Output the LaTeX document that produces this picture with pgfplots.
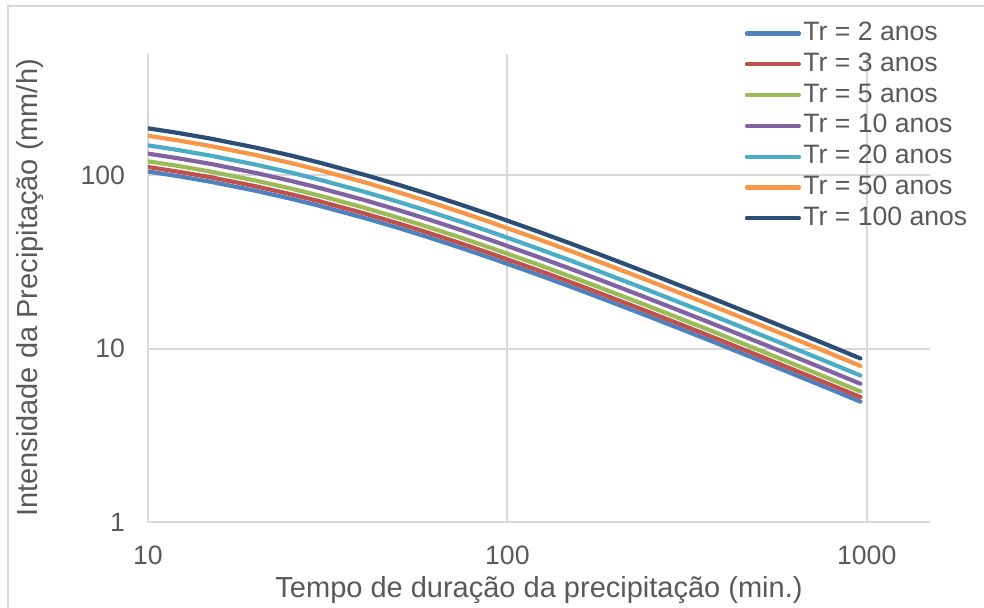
\documentclass[border=0pt]{standalone}
\usepackage{pgfplots}
\pgfplotsset{compat=1.18}
\usepackage{pgfplotstable}
\usepackage{fontspec}
\setmainfont{Liberation Sans}
\definecolor{txt}{HTML}{595959}
\definecolor{grd}{HTML}{D9D9D9}
\definecolor{c2}{HTML}{4F81BD}
\definecolor{c3}{HTML}{C0504D}
\definecolor{c5}{HTML}{9BBB59}
\definecolor{c10}{HTML}{8064A2}
\definecolor{c20}{HTML}{4BACC6}
\definecolor{c50}{HTML}{F79646}
\definecolor{c100}{HTML}{2C4D75}
\pgfplotstableread{
t    a      b      c      d      e      f      g
10   105.0  111.5  120.2  133.1  148.6  168.7  186.4
12   99.09  105.2  113.5  125.6  140.2  159.2  175.9
15   91.46  97.13  104.7  116.0  129.4  147.0  162.3
20   81.19  86.22  92.96  102.9  114.9  130.5  144.1
25   73.12  77.65  83.72  92.72  103.5  117.5  129.8
30   66.60  70.73  76.26  84.45  94.24  107.0  118.2
40   56.68  60.19  64.90  71.87  80.20  91.08  100.6
50   49.48  52.55  56.65  62.74  70.01  79.51  87.83
60   43.99  46.72  50.37  55.78  62.25  70.69  78.08
75   37.83  40.17  43.32  47.97  53.53  60.79  67.15
90   33.27  35.33  38.09  42.19  47.08  53.46  59.05
120  26.94  28.61  30.85  34.16  38.12  43.29  47.82
150  22.74  24.15  26.04  28.83  32.18  36.54  40.36
180  19.73  20.95  22.59  25.02  27.92  31.71  35.02
240  15.70  16.67  17.98  19.91  22.22  25.23  27.87
300  13.10  13.91  15.00  16.61  18.54  21.05  23.25
360  11.29  11.99  12.93  14.32  15.98  18.14  20.04
480  8.885  9.436  10.17  11.27  12.57  14.28  15.77
600  7.371  7.828  8.440  9.346  10.43  11.85  13.08
720  6.321  6.713  7.238  8.015  8.944  10.16  11.22
840  5.544  5.888  6.348  7.030  7.845  8.909  9.841
960  4.946  5.253  5.663  6.272  6.999  7.948  8.779
}\idf
\begin{document}
\begin{tikzpicture}
\useasboundingbox (0,0) rectangle (492pt,304pt);
\draw[grd, line width=0.8pt] (4pt,-10pt) rectangle (510pt,301pt);
\begin{axis}[
  at={(74pt,43pt)}, anchor=south west,
  scale only axis, width=391pt, height=234pt,
  xmode=log, ymode=log,
  xmin=10, xmax=1500, ymin=1, ymax=500,
  xtick={10,100,1000}, xticklabels={10,100,1000},
  ytick={1,10,100}, yticklabels={1,10,100},
  axis x line*=bottom, axis y line*=left,
  axis line style={grd, line width=1pt, -},
  major tick length=0pt, minor tick num=0,
  xminorticks=false, yminorticks=false,
  xmajorgrids, ymajorgrids,
  grid style={grd, line width=1pt},
  ticklabel style={font=\fontsize{13.3}{15}\selectfont, text=txt},
  xticklabel style={yshift=-8.5pt},
  yticklabel style={xshift=-8pt},
  xlabel={Tempo de duração da precipitação (min.)},
  ylabel={Intensidade da Precipitação (mm/h)},
  label style={font=\fontsize{14.5}{17}\selectfont, text=txt},
  xlabel style={at={(axis description cs:0.5,-0.145)}, anchor=center},
  ylabel style={at={(axis description cs:-0.151,0.5)}, anchor=center, rotate=0},
  legend style={at={(axis description cs:0.755,1.086)}, anchor=north west,
    draw=none, fill=none, font=\fontsize{13.3}{15}\selectfont, text=txt,
    nodes={text height=10pt, text depth=3pt, inner sep=1.2pt},
    row sep=0pt},
  legend cell align=left,
  legend image code/.code={\draw[#1, line cap=round] (0pt,0pt) -- (26pt,0pt);},
  every axis plot/.append style={line width=2.1pt, line cap=round, line join=round, mark=none},
]
\addplot[c2]   table[x=t,y=a] {\idf}; \addlegendentry{Tr = 2 anos}
\addplot[c3]   table[x=t,y=b] {\idf}; \addlegendentry{Tr = 3 anos}
\addplot[c5]   table[x=t,y=c] {\idf}; \addlegendentry{Tr = 5 anos}
\addplot[c10]  table[x=t,y=d] {\idf}; \addlegendentry{Tr = 10 anos}
\addplot[c20]  table[x=t,y=e] {\idf}; \addlegendentry{Tr = 20 anos}
\addplot[c50]  table[x=t,y=f] {\idf}; \addlegendentry{Tr = 50 anos}
\addplot[c100] table[x=t,y=g] {\idf}; \addlegendentry{Tr = 100 anos}
\end{axis}
\end{tikzpicture}
\end{document}
